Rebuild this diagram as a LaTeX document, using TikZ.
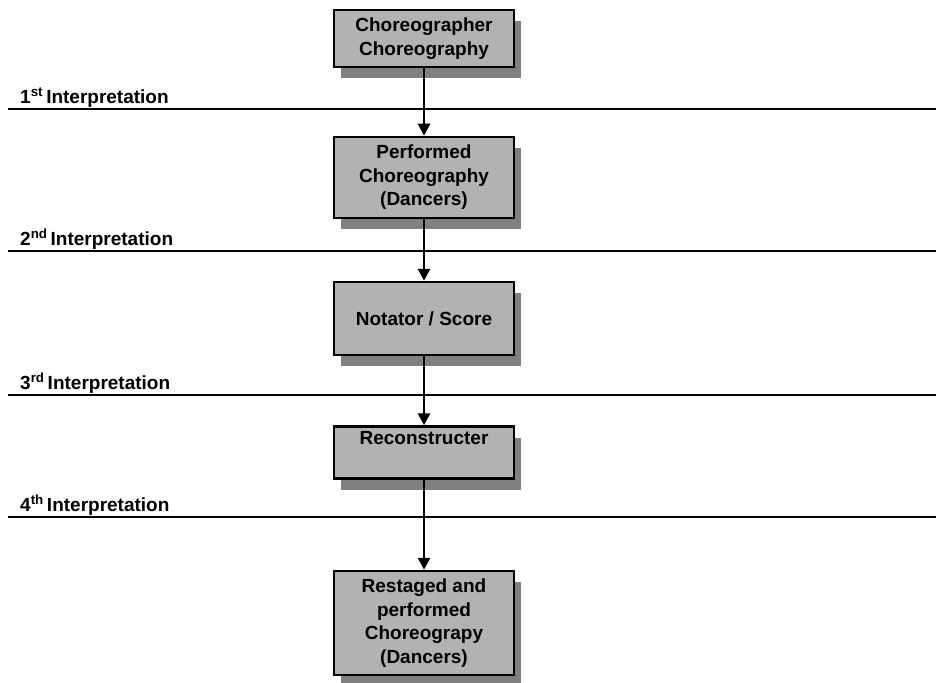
\documentclass[tikz,border=0pt]{standalone}
\usepackage{fontspec}
\setmainfont{Liberation Sans}
\usetikzlibrary{arrows.meta,shadows}
\begin{document}
\begin{tikzpicture}[
    x=1pt, y=-1pt,
    stage/.style={draw, fill=black!30, line width=2.5pt, minimum width=180pt,
      align=center, inner sep=3pt, font=\fontsize{19}{23.5}\selectfont\bfseries,
      drop shadow={shadow xshift=7pt, shadow yshift=-11pt, fill=black!50, opacity=1}},
    level/.style={anchor=base west, inner sep=0pt, font=\fontsize{19}{22}\selectfont\bfseries},
    divider/.style={line width=2.8pt},
    flow/.style={line width=2.8pt, -{Triangle[width=12pt,length=12pt]}},
  ]
  \useasboundingbox (0,0) rectangle (936,682);

  % stages
  \node[stage, minimum height=57pt] (chor) at (424,38.5) {Choreographer\\Choreography};
  \node[stage, minimum height=81pt] (perf) at (424,177.5) {Performed\\Choreography\\(Dancers)};
  \node[stage, minimum height=73pt] (nota) at (424,318.5) {Notator / Score};
  \node[stage, text height=15pt, text depth=31pt] (recon) at (424,452.5) {Reconstructer};
  \node[stage, minimum height=104pt] (rest) at (424,623) {Restaged and\\performed\\Choreograpy\\(Dancers)};

  % interpretation levels
  \draw[divider] (8,109) -- (936,109);
  \node[level] (int1) at (20,103) {1\textsuperscript{st}\,Interpretation};
  \draw[divider] (8,251) -- (936,251);
  \node[level] (int2) at (20,245) {2\textsuperscript{nd}\,Interpretation};
  \draw[divider] (8,395) -- (936,395);
  \node[level] (int3) at (20,389) {3\textsuperscript{rd}\,Interpretation};
  \draw[divider] (8,517) -- (936,517);
  \node[level] (int4) at (20,511) {4\textsuperscript{th}\,Interpretation};

  % flow
  \draw[flow] (chor) -- (perf);
  \draw[flow] (perf) -- (nota);
  \draw[flow] (nota) -- (recon);
  \draw[flow] (recon) -- (rest);
\end{tikzpicture}
\end{document}
